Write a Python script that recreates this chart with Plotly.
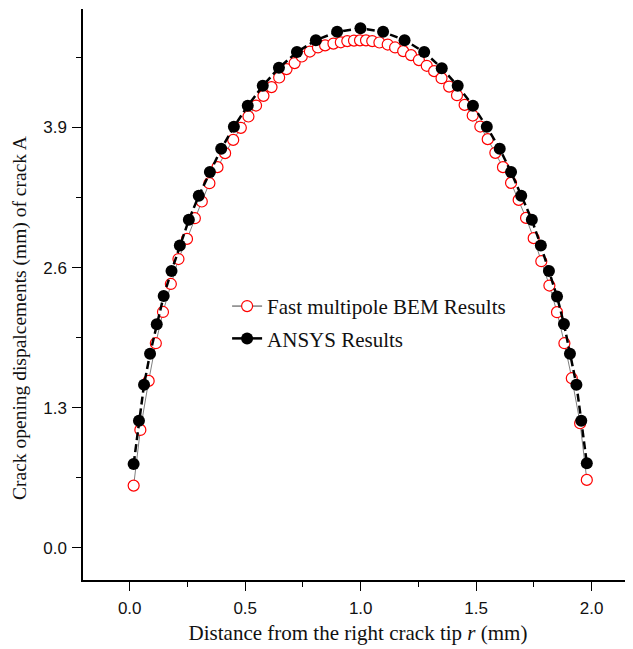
import plotly.graph_objects as go

# Fast multipole BEM results (red open circles)
bem_x = [0.017, 0.046, 0.082, 0.113, 0.144, 0.178, 0.211, 0.248, 0.282, 0.312,
         0.345, 0.380, 0.413, 0.448, 0.481, 0.514, 0.547, 0.579, 0.614, 0.647,
         0.679, 0.714, 0.745, 0.780, 0.815, 0.846, 0.882, 0.914, 0.942, 0.971,
         0.997, 1.023, 1.050, 1.081, 1.117, 1.149, 1.184, 1.218, 1.252, 1.286,
         1.318, 1.350, 1.383, 1.417, 1.450, 1.485, 1.518, 1.550, 1.583, 1.616,
         1.651, 1.684, 1.716, 1.749, 1.782, 1.817, 1.850, 1.882, 1.914, 1.950,
         1.979]
bem_y = [0.576, 1.093, 1.548, 1.898, 2.188, 2.448, 2.679, 2.866, 3.058, 3.213,
         3.383, 3.532, 3.662, 3.785, 3.897, 4.002, 4.104, 4.194, 4.275, 4.364,
         4.442, 4.498, 4.559, 4.605, 4.643, 4.662, 4.679, 4.691, 4.702, 4.707,
         4.709, 4.709, 4.702, 4.689, 4.670, 4.643, 4.609, 4.572, 4.526, 4.473,
         4.423, 4.358, 4.280, 4.200, 4.110, 4.011, 3.909, 3.792, 3.665, 3.532,
         3.386, 3.228, 3.061, 2.873, 2.659, 2.433, 2.186, 1.898, 1.573, 1.155,
         0.629]

# ANSYS results (black filled circles)
ansys_x = [0.017, 0.040, 0.062, 0.088, 0.117, 0.147, 0.181, 0.217, 0.256, 0.299,
           0.347, 0.396, 0.451, 0.511, 0.576, 0.646, 0.724, 0.806, 0.898, 0.999,
           1.097, 1.190, 1.275, 1.351, 1.420, 1.486, 1.546, 1.602, 1.651, 1.695,
           1.741, 1.780, 1.815, 1.850, 1.880, 1.906, 1.934, 1.955, 1.979]
ansys_y = [0.777, 1.179, 1.513, 1.801, 2.074, 2.337, 2.569, 2.804, 3.043, 3.266,
           3.487, 3.702, 3.906, 4.101, 4.287, 4.454, 4.600, 4.711, 4.788, 4.821,
           4.788, 4.711, 4.600, 4.451, 4.287, 4.101, 3.906, 3.702, 3.486, 3.266,
           3.043, 2.804, 2.569, 2.332, 2.077, 1.801, 1.513, 1.179, 0.784]

x_tickvals = [0.0, 0.5, 1.0, 1.5, 2.0]
x_ticktext = ["0.0", "0.5", "1.0", "1.5", "2.0"]
y_tickvals = [0.0, 1.3, 2.6, 3.9]
y_ticktext = ["0.0", "1.3", "2.6", "3.9"]

serif = "Liberation Serif, Times New Roman, serif"
sans = "Liberation Sans, Arial, sans-serif"

fig = go.Figure()

fig.add_trace(go.Scatter(
    x=bem_x, y=bem_y, mode="lines+markers", showlegend=False,
    line=dict(color="#808080", width=1),
    marker=dict(symbol="circle", size=11, color="white",
                line=dict(color="#ff0000", width=1.2)),
))
fig.add_trace(go.Scatter(
    x=ansys_x, y=ansys_y, mode="lines+markers", showlegend=False,
    line=dict(color="black", width=2.5, dash="8px,4px"),
    marker=dict(symbol="circle", size=12, color="black"),
))

# legend entries
fig.add_trace(go.Scatter(
    x=[None], y=[None], mode="lines+markers", name="Fast multipole BEM Results",
    legendgroup="a",
    line=dict(color="#808080", width=1.5),
    marker=dict(symbol="circle", size=11, color="white",
                line=dict(color="#ff0000", width=1.2)),
))
fig.add_trace(go.Scatter(
    x=[None], y=[None], mode="lines+markers", name="ANSYS Results",
    legendgroup="b",
    line=dict(color="black", width=2.5),
    marker=dict(symbol="circle", size=12, color="black"),
))

fig.update_layout(
    width=625, height=641,
    margin=dict(l=75, r=0, t=1, b=69),
    paper_bgcolor="white", plot_bgcolor="white",
    font=dict(family=serif, color="black"),
    legend=dict(
        x=0.262, y=0.515, xanchor="left", yanchor="top",
        bgcolor="rgba(0,0,0,0)", font=dict(family=serif, size=21, color="#111111"),
        traceorder="grouped", tracegroupgap=2,
    ),
    xaxis=dict(
        range=[-0.2023, 2.179], showgrid=False, zeroline=False, automargin=False,
        showline=True, linecolor="black", linewidth=1.5,
        ticks="outside", ticklen=9, tickwidth=1.2, tickcolor="black",
        tickvals=x_tickvals, ticktext=x_ticktext,
        tickfont=dict(family=sans, size=17, color="#111111"),
        ticklabelstandoff=3,
        minor=dict(tickvals=[0.25, 0.75, 1.25, 1.75], ticks="outside",
                   ticklen=5, tickwidth=1.2, tickcolor="black"),
        title=dict(text="Distance from the right crack tip <i>r</i> (mm)",
                   font=dict(family=serif, size=21, color="#111111"), standoff=8),
    ),
    yaxis=dict(
        range=[-0.3, 5.0], showgrid=False, zeroline=False, automargin=False,
        showline=True, linecolor="black", linewidth=1.5,
        ticks="outside", ticklen=9, tickwidth=1.2, tickcolor="black",
        tickvals=y_tickvals, ticktext=y_ticktext,
        tickfont=dict(family=sans, size=17, color="#111111"),
        ticklabelstandoff=2,
        minor=dict(tickvals=[0.65, 1.95, 3.25, 4.55], ticks="outside",
                   ticklen=5, tickwidth=1.2, tickcolor="black"),
    ),
    annotations=[dict(
        text="Crack opening dispalcements (mm) of crack A",
        xref="paper", yref="paper", x=-0.1145, y=0.459,
        xanchor="center", yanchor="middle", textangle=-90, showarrow=False,
        font=dict(family=serif, size=19.5, color="#111111"),
    )],
)

fig.write_html("out.html")
